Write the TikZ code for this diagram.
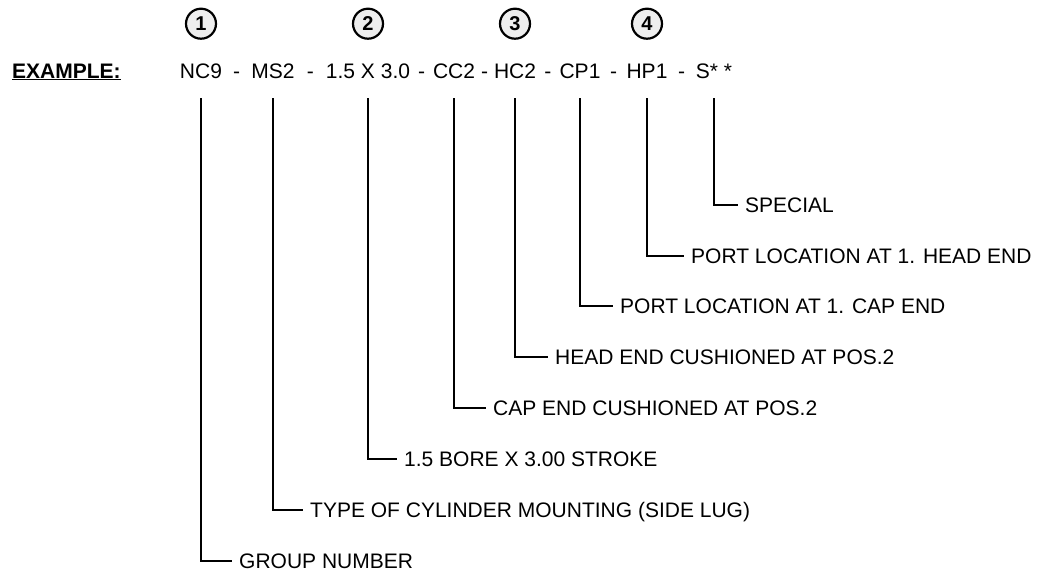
\documentclass[tikz,border=0pt]{standalone}
\usepackage{fontspec}
\setmainfont{Liberation Sans}
\usetikzlibrary{positioning}
\tikzset{
    codePart/.style={
        anchor=base,
        inner sep=0pt,
        text height=15pt,
        text depth=0pt,
        font=\fontsize{21}{24}\selectfont
    },
    codeNum/.style={
        draw,
        circle,
        line width=2.2pt,
        fill=gray!13,
        minimum size=30pt,
        inner sep=0pt,
        font=\fontsize{20}{22}\selectfont\bfseries
    },
    descLabel/.style={
        anchor=west,
        inner xsep=7pt,
        inner ysep=0pt,
        text height=15pt,
        text depth=0pt,
        font=\fontsize{21}{24}\selectfont
    },
    legLine/.style={
        line width=1.7pt
    }
}

\begin{document}
\begin{tikzpicture}[x=1pt,y=-1pt]
        \useasboundingbox (0,0) rectangle (1043,573);

        % code row
        \node[codePart,anchor=base west,font=\fontsize{21}{24}\selectfont\bfseries] (example) at (12,78) {\underline{EXAMPLE:}};
        \node[codePart] (nc9) at (201,78) {NC9};
        \node[codePart] (ms2) at (273,78) {MS2};
        \node[codePart] (bore) at (368,78) {1.5 X 3.0};
        \node[codePart] (cc2) at (454,78) {CC2};
        \node[codePart] (hc2) at (515,78) {HC2};
        \node[codePart] (cp1) at (580,78) {CP1};
        \node[codePart] (hp1) at (647,78) {HP1};
        \node[codePart] (spc) at (714,78) {S* *};
        \path (nc9) -- node[codePart,anchor=center] {-} (ms2);
        \path (ms2) -- node[codePart,anchor=center] {-} (bore);
        \path (bore) -- node[codePart,anchor=center] {-} (cc2);
        \path (cc2) -- node[codePart,anchor=center] {-} (hc2);
        \path (hc2) -- node[codePart,anchor=center] {-} (cp1);
        \path (cp1) -- node[codePart,anchor=center] {-} (hp1);
        \path (hp1) -- node[codePart,anchor=center] {-} (spc);

        % numbered groups
        \node[codeNum,above=23pt of nc9] (num1) {1};
        \node[codeNum,above=23pt of bore] (num2) {2};
        \node[codeNum,above=23pt of hc2] (num3) {3};
        \node[codeNum,above=23pt of hp1] (num4) {4};

        % descriptions
        \node[descLabel] (grp) at (232,561) {GROUP NUMBER};
        \node[descLabel] (mnt) at (303,510) {TYPE OF CYLINDER MOUNTING (SIDE LUG)};
        \node[descLabel] (stroke) at (397,459) {1.5 BORE X 3.00 STROKE};
        \node[descLabel] (capcush) at (486,408) {CAP END CUSHIONED AT POS.2};
        \node[descLabel] (headcush) at (548,357) {HEAD END CUSHIONED AT POS.2};
        \node[descLabel] (capport) at (613,306) {PORT LOCATION AT 1. CAP END};
        \node[descLabel] (headport) at (684,256) {PORT LOCATION AT 1. HEAD END};
        \node[descLabel] (special) at (738,205) {SPECIAL};

        \draw[legLine] ([yshift=-20pt]nc9.south) |- (grp.west);
        \draw[legLine] ([yshift=-20pt]ms2.south) |- (mnt.west);
        \draw[legLine] ([yshift=-20pt]bore.south) |- (stroke.west);
        \draw[legLine] ([yshift=-20pt]cc2.south) |- (capcush.west);
        \draw[legLine] ([yshift=-20pt]hc2.south) |- (headcush.west);
        \draw[legLine] ([yshift=-20pt]cp1.south) |- (capport.west);
        \draw[legLine] ([yshift=-20pt]hp1.south) |- (headport.west);
        \draw[legLine] ([yshift=-20pt]spc.south) |- (special.west);
    \end{tikzpicture}
\end{document}
